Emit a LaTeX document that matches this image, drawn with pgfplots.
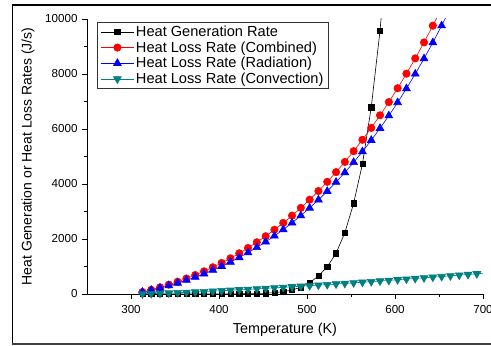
\documentclass[border=0pt]{standalone}
\usepackage{pgfplots}
\pgfplotsset{compat=1.18}
\usepackage{fontspec}
\setmainfont{Liberation Sans}
\definecolor{tealc}{RGB}{0,128,128}
\begin{document}
\begin{tikzpicture}
\useasboundingbox (0pt,0pt) rectangle (491pt,346pt);
\draw[line width=2pt] (11.5pt,341pt) -- (491pt,341pt);
\draw[line width=1.4pt] (12.3pt,2pt) -- (12.3pt,341pt);
\draw[line width=1.4pt, black!75] (11.5pt,2pt) -- (491pt,2pt);
\begin{axis}[
 at={(87pt,52pt)}, anchor=south west,
 scale only axis, width=396pt, height=275pt,
 xmin=250, xmax=700, ymin=0, ymax=10000,
 axis x line*=bottom, axis y line*=left,
 axis line style={line width=0.9pt, black},
 xtick={300,400,500,600,700}, minor x tick num=1,
 ytick={0,2000,4000,6000,8000,10000}, minor y tick num=1,
 tick align=outside, major tick length=5pt, minor tick length=3pt,
 tick style={black, line width=0.8pt},
 scaled y ticks=false,
 /pgf/number format/assume math mode=true,
 /pgf/number format/set thousands separator={},
 ticklabel style={font=\fontsize{11.6}{13}\selectfont},
 xticklabel style={yshift=-2.5pt},
 yticklabel style={xshift=-1pt},
 xlabel={Temperature (K)},
 ylabel={Heat Generation or Heat Loss Rates (J/s)},
 xlabel style={font=\fontsize{14.4}{16}\selectfont, at={(axis description cs:0.5,-0.131)}, anchor=center},
 ylabel style={font=\fontsize{14}{16}\selectfont, at={(axis description cs:-0.149,0.5)}, anchor=center, rotate=0},
 legend style={at={(axis description cs:0.026,0.99)}, anchor=north west,
   font=\fontsize{14.6}{16}\selectfont, draw=black!80, line width=0.6pt,
   nodes={inner sep=1.8pt}, row sep=0pt},
 legend cell align=left,
 legend image code/.code={\draw[mark repeat=2,mark phase=2,#1] plot coordinates {(0pt,0pt) (16.5pt,0pt) (33pt,0pt)};},
]
\addplot[black, line width=0.6pt, mark=square*, mark size=2.6pt, mark options={solid, fill=black}] coordinates {
(313,0)(323,0)(333,0)(343,0)(353,0)(363,0.1)(373,0.2)(383,0.4)(393,0.8)(403,1.6)
(413,3)(423,5.5)(433,10)(443,17)(453,29)(463,50)(473,84)(483,145)(493,244)(503,411)
(513,655)(523,993)(533,1479)(543,2229)(553,3297)(563,4727)(573,6788)(583,9575)};
\addlegendentry{Heat Generation Rate}
\addplot[red, line width=0.6pt, mark=*, mark size=3.7pt, mark options={solid, fill=red}] coordinates {
(313,71)(323,152)(333,242)(343,340)(353,447)(363,564)(373,689)(383,825)(393,972)(403,1130)
(413,1299)(423,1480)(433,1674)(443,1881)(453,2101)(463,2336)(473,2585)(483,2850)(493,3132)(503,3430)
(513,3745)(523,4079)(533,4431)(543,4803)(553,5194)(563,5607)(573,6042)(583,6499)(593,6979)(603,7483)
(613,8012)(623,8567)(633,9148)(643,9756)};
\addlegendentry{Heat Loss Rate (Combined)}
\addplot[blue, line width=0.6pt, mark=triangle*, mark size=4.5pt, mark options={solid, fill=blue}] coordinates {
(313,66)(323,138)(333,218)(343,305)(353,399)(363,503)(373,615)(383,736)(393,868)(403,1010)
(413,1163)(423,1327)(433,1504)(443,1693)(453,1895)(463,2112)(473,2342)(483,2588)(493,2850)(503,3128)
(513,3423)(523,3736)(533,4067)(543,4418)(553,4788)(563,5179)(573,5592)(583,6026)(593,6484)(603,6965)
(613,7471)(623,8002)(633,8560)(643,9144)(653,9757)};
\addlegendentry{Heat Loss Rate (Radiation)}
\addplot[tealc, line width=0.6pt, mark=triangle*, mark size=4.5pt, mark options={solid, fill=tealc, rotate=180}] coordinates {
(313,6)(323,14)(333,24)(343,35)(353,48)(363,61)(373,74)(383,89)(393,104)(403,120)
(413,136)(423,153)(433,170)(443,188)(453,206)(463,224)(473,243)(483,262)(493,282)(503,302)
(513,322)(523,343)(533,364)(543,385)(553,406)(563,428)(573,450)(583,473)(593,495)(603,518)
(613,541)(623,565)(633,588)(643,612)(653,636)(663,661)(673,685)(683,710)(693,735)};
\addlegendentry{Heat Loss Rate (Convection)}
\addplot[black, line width=0.6pt, forget plot] coordinates {(583,9575)(593,13300)};
\addplot[red, line width=0.6pt, forget plot] coordinates {(643,9756)(653,10393)};
\addplot[blue, line width=0.6pt, forget plot] coordinates {(653,9757)(663,10398)};
\addplot[tealc, line width=0.6pt, forget plot] coordinates {(693,735)(703,760)};
\end{axis}
\end{tikzpicture}
\end{document}
